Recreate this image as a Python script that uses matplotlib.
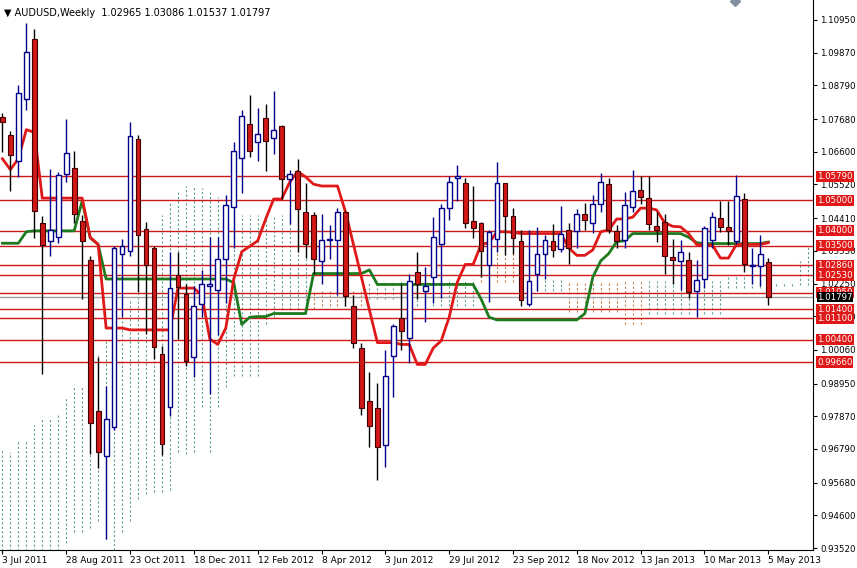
import numpy as np
import matplotlib
matplotlib.use("Agg")
import matplotlib.pyplot as plt

# weekly AUDUSD candles, 3 Jul 2011 .. 5 May 2013
opens = [1.0775, 1.0715, 1.0631, 1.0835, 1.1031, 1.0424, 1.0366, 1.0378, 1.0585, 1.0607,
         1.0430, 1.0303, 0.9805, 0.9655, 0.9750, 1.0324, 1.0334, 1.0703, 1.0406, 1.0342,
         0.9991, 0.9816, 1.0252, 1.0192, 0.9984, 1.0158, 1.0217, 1.0204, 1.0306, 1.0478,
         1.0640, 1.0753, 1.0691, 1.0772, 1.0705, 1.0745, 1.0571, 1.0595, 1.0460, 1.0450,
         1.0299, 1.0370, 1.0370, 1.0460, 1.0152, 1.0012, 0.9837, 0.9813, 0.9693, 0.9985,
         1.0111, 1.0045, 1.0262, 1.0200, 1.0248, 1.0357, 1.0474, 1.0574, 1.0556, 1.0432,
         1.0424, 1.0285, 1.0372, 1.0556, 1.0447, 1.0364, 1.0156, 1.0256, 1.0321, 1.0366,
         1.0339, 1.0402, 1.0400, 1.0456, 1.0426, 1.0489, 1.0552, 1.0399, 1.0369, 1.0478,
         1.0535, 1.0508, 1.0414, 1.0429, 1.0312, 1.0300, 1.0303, 1.0200, 1.0240, 1.0369,
         1.0441, 1.0412, 1.0366, 1.0504, 1.0282, 1.0282, 1.02965]
highs = [1.0789, 1.0730, 1.0880, 1.1085, 1.1066, 1.0448, 1.0604, 1.0592, 1.0767, 1.0664,
         1.0450, 1.0316, 0.9981, 0.9888, 1.0348, 1.0372, 1.0757, 1.0717, 1.0429, 1.0348,
         1.0018, 1.0330, 1.0330, 1.0222, 1.0216, 1.0270, 1.0378, 1.0378, 1.0517, 1.0691,
         1.0797, 1.0847, 1.0805, 1.0817, 1.0859, 1.0748, 1.0601, 1.0637, 1.0556, 1.0462,
         1.0453, 1.0417, 1.0474, 1.0465, 1.0186, 1.0030, 0.9934, 0.9897, 1.0006, 1.0090,
         1.0222, 1.0258, 1.0330, 1.0280, 1.0444, 1.0486, 1.0580, 1.0616, 1.0573, 1.0547,
         1.0429, 1.0402, 1.0625, 1.0556, 1.0474, 1.0402, 1.0402, 1.0412, 1.0384, 1.0420,
         1.0480, 1.0426, 1.0471, 1.0492, 1.0517, 1.0589, 1.0574, 1.0417, 1.0528, 1.0601,
         1.0580, 1.0580, 1.0462, 1.0456, 1.0372, 1.0369, 1.0330, 1.0304, 1.0414, 1.0462,
         1.0498, 1.0498, 1.0583, 1.0523, 1.0342, 1.0384, 1.03086]
lows = [1.0660, 1.0529, 1.0577, 1.0799, 1.0376, 0.9925, 1.0316, 1.0360, 1.0561, 1.0426,
        1.0174, 0.9663, 0.9615, 0.9381, 0.9740, 1.0114, 1.0316, 1.0196, 1.0060, 0.9976,
        0.9659, 0.9789, 1.0042, 0.9952, 0.9915, 1.0114, 0.9860, 1.0054, 1.0162, 1.0342,
        1.0523, 1.0643, 1.0631, 1.0597, 1.0652, 1.0504, 1.0420, 1.0330, 1.0309, 1.0258,
        1.0222, 1.0306, 1.0186, 1.0150, 1.0012, 0.9792, 0.9687, 0.9575, 0.9621, 0.9849,
        1.0006, 0.9964, 1.0174, 1.0098, 1.0162, 1.0176, 1.0436, 1.0498, 1.0408, 1.0376,
        1.0246, 1.0164, 1.0330, 1.0318, 1.0324, 1.0150, 1.0150, 1.0200, 1.0240, 1.0312,
        1.0330, 1.0291, 1.0342, 1.0402, 1.0393, 1.0462, 1.0393, 1.0342, 1.0342, 1.0462,
        1.0486, 1.0402, 1.0363, 1.0258, 1.0222, 1.0204, 1.0176, 1.0114, 1.0210, 1.0342,
        1.0396, 1.0351, 1.0357, 1.0264, 1.0222, 1.0216, 1.01537]
closes = [1.0757, 1.0649, 1.0853, 1.0988, 1.0466, 1.0351, 1.0402, 1.0583, 1.0657, 1.0454,
          1.0366, 0.9765, 0.9669, 0.9777, 1.0342, 1.0348, 1.0712, 1.0384, 1.0285, 1.0014,
          0.9695, 1.0210, 1.0214, 0.9970, 1.0150, 1.0224, 1.0222, 1.0306, 1.0484, 1.0661,
          1.0779, 1.0661, 1.0720, 1.0696, 1.0733, 1.0571, 1.0585, 1.0471, 1.0357, 1.0306,
          1.0369, 1.0373, 1.0460, 1.0184, 1.0030, 0.9813, 0.9756, 0.9684, 0.9919, 1.0086,
          1.0069, 1.0234, 1.0222, 1.0216, 1.0378, 1.0474, 1.0561, 1.0579, 1.0424, 1.0408,
          1.0333, 1.0396, 1.0556, 1.0447, 1.0376, 1.0170, 1.0232, 1.0321, 1.0369, 1.0336,
          1.0388, 1.0342, 1.0453, 1.0436, 1.0489, 1.0561, 1.0402, 1.0366, 1.0484, 1.0532,
          1.0510, 1.0423, 1.0402, 1.0316, 1.0302, 1.0330, 1.0196, 1.0236, 1.0408, 1.0444,
          1.0412, 1.0400, 1.0513, 1.0288, 1.0285, 1.0321, 1.01797]

tenkan = [1.0637, 1.0601, 1.0637, 1.0733, 1.0724, 1.0507, 1.0507, 1.0507, 1.0507, 1.0507,
          1.0507, 1.0378, 1.0354, 1.0078, 1.0078, 1.0078, 1.0072, 1.0072, 1.0072, 1.0072,
          1.0072, 1.0072, 1.0210, 1.0210, 1.0210, 1.0186, 1.0042, 1.0024, 1.0078, 1.0240,
          1.0330, 1.0348, 1.0366, 1.0438, 1.0504, 1.0504, 1.0559, 1.0595, 1.0577, 1.0553,
          1.0547, 1.0547, 1.0547, 1.0462, 1.0354, 1.0246, 1.0138, 1.0030, 1.0030, 1.0030,
          1.0024, 1.0024, 0.9958, 0.9958, 1.0012, 1.0036, 1.0114, 1.0228, 1.0288, 1.0288,
          1.0354, 1.0360, 1.0396, 1.0396, 1.0394, 1.0390, 1.0390, 1.0390, 1.0390, 1.0390,
          1.0390, 1.0342, 1.0318, 1.0318, 1.0336, 1.0396, 1.0402, 1.0438, 1.0438, 1.0444,
          1.0474, 1.0474, 1.0468, 1.0426, 1.0414, 1.0412, 1.0390, 1.0354, 1.0352, 1.0352,
          1.0309, 1.0309, 1.0354, 1.0354, 1.0354, 1.0354, 1.0360]
kijun = [1.0358, 1.0358, 1.0358, 1.0396, 1.0399, 1.0399, 1.0399, 1.0399, 1.0399, 1.0399,
         1.0498, 1.0376, 1.0354, 1.0240, 1.0240, 1.0240, 1.0240, 1.0240, 1.0240, 1.0240,
         1.0240, 1.0240, 1.0240, 1.0240, 1.0240, 1.0240, 1.0240, 1.0240, 1.0240, 1.0228,
         1.0090, 1.0114, 1.0116, 1.0116, 1.0126, 1.0126, 1.0126, 1.0126, 1.0126, 1.0258,
         1.0258, 1.0258, 1.0258, 1.0258, 1.0258, 1.0258, 1.0270, 1.0222, 1.0222, 1.0222,
         1.0222, 1.0222, 1.0222, 1.0222, 1.0222, 1.0222, 1.0222, 1.0222, 1.0222, 1.0222,
         1.0174, 1.0114, 1.0105, 1.0105, 1.0105, 1.0105, 1.0105, 1.0105, 1.0105, 1.0105,
         1.0105, 1.0105, 1.0105, 1.0126, 1.0246, 1.0300, 1.0324, 1.0364, 1.0366, 1.0390,
         1.0390, 1.0390, 1.0390, 1.0390, 1.0390, 1.0390, 1.0378, 1.0360, 1.0357, 1.0357,
         1.0357, 1.0357, 1.0357, 1.0357, 1.0357, 1.0357, 1.0362]

# Kumo (cloud) span per bar, drawn as dotted verticals; extends 5 bars past the last candle
cloud_top = [0.9675, 0.9669, 0.9705, 0.9705, 0.9759, 0.9777, 0.9777, 0.9795, 0.9849, 0.9891,
             0.9885, 0.9982, 0.9988, 1.0042, 1.0054, 1.0114, 1.0168, 1.0234, 1.0324, 1.0330,
             1.0450, 1.0498, 1.0534, 1.0546, 1.0546, 1.0540, 1.0529, 1.0510, 1.0450, 1.0450,
             1.0450, 1.0450, 1.0450, 1.0450, 1.0450, 1.0450, 1.0450, 1.0480, 1.0420, 1.0200,
             1.0200, 1.0200, 1.0200, 1.0200, 1.0200, 1.0200, 1.0234, 1.0234, 1.0234, 1.0234,
             1.0240, 1.0240, 1.0240, 1.0240, 1.0240, 1.0240, 1.0240, 1.0240, 1.0240, 1.0240,
             1.0380, 1.0380, 1.0380, 1.0380, 1.0380, 1.0240, 1.0240, 1.0240, 1.0240, 1.0240,
             1.0240, 1.0234, 1.0234, 1.0234, 1.0234, 1.0234, 1.0234, 1.0234, 1.0234, 1.0234,
             1.0234, 1.0234, 1.0234, 1.0234, 1.0234, 1.0234, 1.0234, 1.0234, 1.0234, 1.0234,
             1.0234, 1.0250, 1.0250, 1.0250, 1.0250, 1.0250, 1.0230, 1.0230, 1.0230, 1.0230,
             1.0300, 1.0350]
cloud_bot = [0.9300, 0.9300, 0.9300, 0.9300, 0.9300, 0.9300, 0.9300, 0.9300, 0.9369, 0.9405,
             0.9405, 0.9417, 0.9441, 0.9381, 0.9345, 0.9405, 0.9441, 0.9513, 0.9531, 0.9537,
             0.9537, 0.9543, 0.9669, 0.9663, 0.9669, 0.9819, 0.9669, 0.9819, 0.9885, 0.9921,
             0.9921, 0.9921, 0.9921, 1.0090, 1.0114, 1.0126, 1.0126, 1.0126, 1.0126, 1.0140,
             1.0150, 1.0150, 1.0150, 1.0150, 1.0150, 1.0150, 1.0174, 1.0174, 1.0174, 1.0174,
             1.0150, 1.0150, 1.0150, 1.0150, 1.0150, 1.0150, 1.0150, 1.0150, 1.0150, 1.0150,
             1.0230, 1.0230, 1.0230, 1.0230, 1.0230, 1.0200, 1.0200, 1.0200, 1.0200, 1.0200,
             1.0200, 1.0130, 1.0130, 1.0130, 1.0130, 1.0130, 1.0130, 1.0130, 1.0090, 1.0090,
             1.0090, 1.0126, 1.0126, 1.0126, 1.0126, 1.0126, 1.0126, 1.0126, 1.0126, 1.0126,
             1.0126, 1.0210, 1.0210, 1.0210, 1.0210, 1.0210, 1.0216, 1.0216, 1.0216, 1.0216,
             1.0220, 1.0220]
cloud_up = [True] * 39 + [False] * 7 + [True] * 14 + [False] * 5 + [True] * 6 + [False] * 10 + [True] * 21

levels = [1.0579, 1.0500, 1.0400, 1.0350, 1.0286, 1.0253, 1.0195, 1.0140, 1.0110, 1.0040, 0.9966]
axis_ticks = [1.10950, 1.09870, 1.08790, 1.07680, 1.06600, 1.05520, 1.04410, 1.03330, 1.02250,
              1.01170, 1.00060, 0.98950, 0.97870, 0.96790, 0.95680, 0.94600, 0.93520]
date_pos = [0, 8, 16, 24, 32, 40, 48, 56, 64, 72, 80, 88, 96]
date_labels = ["3 Jul 2011", "28 Aug 2011", "23 Oct 2011", "18 Dec 2011", "12 Feb 2012",
               "8 Apr 2012", "3 Jun 2012", "29 Jul 2012", "23 Sep 2012", "18 Nov 2012",
               "13 Jan 2013", "10 Mar 2013", "5 May 2013"]
last_price = 1.01797

fig = plt.figure(figsize=(8.57, 5.68), dpi=100)
ax = fig.add_axes([0.0, 18 / 568, 813 / 857, 550 / 568])
ax.set_xlim(-0.3, 101.6)
ax.set_ylim(0.93454, 1.11610)

o, h, l, c = map(np.array, (opens, highs, lows, closes))
x = np.arange(len(o))
up = c >= o

# cloud
cx = np.arange(len(cloud_top))
cu = np.array(cloud_up)
ax.vlines(cx[cu], np.array(cloud_bot)[cu], np.array(cloud_top)[cu], colors="#5f9f8f",
          linestyles=(0, (2, 2)), lw=0.8, zorder=1)
ax.vlines(cx[~cu], np.array(cloud_bot)[~cu], np.array(cloud_top)[~cu], colors="#c8804a",
          linestyles=(0, (2, 2)), lw=0.8, zorder=1)

for lv in levels:
    ax.axhline(lv, color="#d01818", lw=1.0, zorder=2)
ax.axhline(last_price, color="#a0a0a0", lw=1.0, zorder=2)

ax.plot(x, kijun, color="#1e7a1e", lw=2, zorder=3)
ax.plot(x, tenkan, color="#e01818", lw=2, zorder=3)

# candles
ax.vlines(x[up], l[up], h[up], color="#00008b", lw=1, zorder=4)
ax.vlines(x[~up], l[~up], h[~up], color="black", lw=1, zorder=4)
ax.bar(x[up], (c - o)[up], bottom=o[up], width=0.6, color="white", edgecolor="#00008b", lw=1, zorder=5)
ax.bar(x[~up], (o - c)[~up], bottom=c[~up], width=0.6, color="#d01818", edgecolor="#400000", lw=0.8, zorder=5)

# axes styling
for s in ["top", "left"]:
    ax.spines[s].set_visible(False)
ax.spines["right"].set_color("black")
ax.spines["bottom"].set_color("black")
ax.yaxis.tick_right()
ax.set_yticks(axis_ticks)
ax.set_yticklabels([f"{t:.5f}" for t in axis_ticks], fontsize=6.2)
ax.tick_params(axis="y", length=3, pad=2)
ax.set_xticks(date_pos)
ax.set_xticklabels(date_labels, fontsize=6.5, ha="left")
ax.tick_params(axis="x", length=3, pad=1)

for lv in levels:
    ax.text(1.005, lv, f"{lv:.5f}", transform=ax.get_yaxis_transform(), fontsize=6.2,
            color="white", va="center", ha="left",
            bbox=dict(boxstyle="square,pad=0.12", fc="#e01818", ec="none"), zorder=10)
ax.text(1.005, last_price, f"{last_price:.5f}", transform=ax.get_yaxis_transform(), fontsize=6.2,
        color="white", va="center", ha="left",
        bbox=dict(boxstyle="square,pad=0.05", fc="black", ec="none"), zorder=11)

ax.text(0.005, 0.985, "▼ AUDUSD,Weekly  1.02965 1.03086 1.01537 1.01797", transform=ax.transAxes,
        fontsize=7, va="top", ha="left")
ax.plot([91.8], [1.1158], marker="D", color="#8090a0", ms=5, clip_on=False)

fig.savefig("out.png", dpi=100)
